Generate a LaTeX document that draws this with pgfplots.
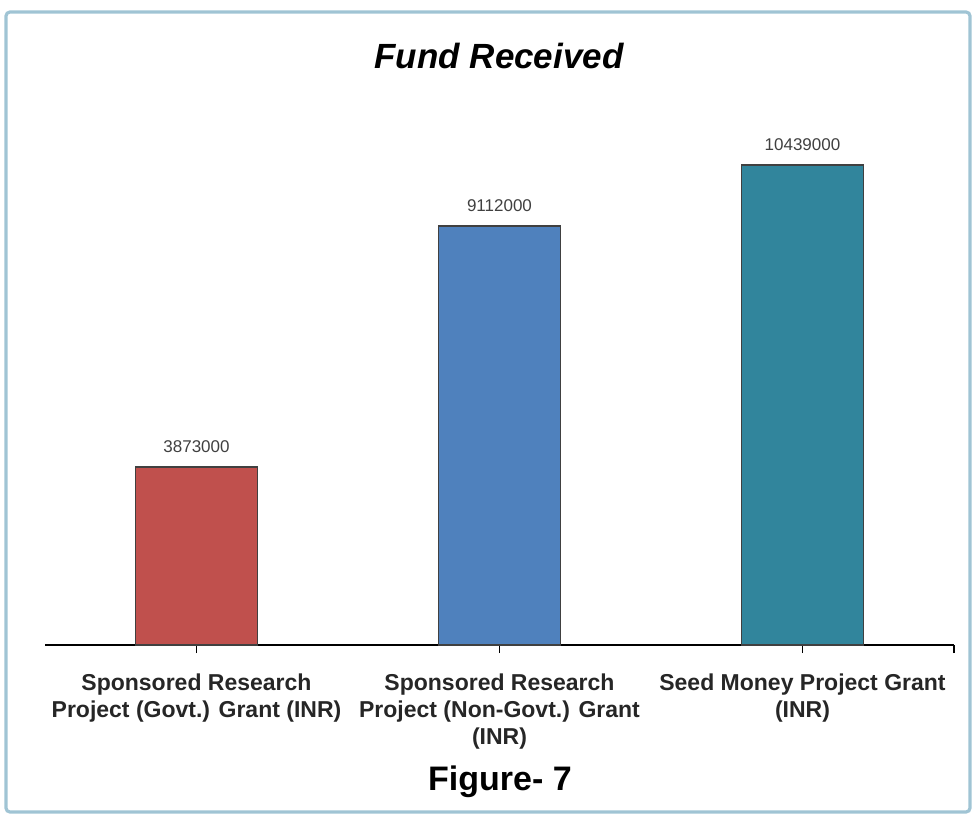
\documentclass[border=0pt]{standalone}
\usepackage{pgfplots}
\pgfplotsset{compat=1.18}
\usepackage{fontspec}
\setmainfont{Liberation Sans}

\definecolor{barred}{HTML}{C0504D}
\definecolor{barblue}{HTML}{4F81BD}
\definecolor{barteal}{HTML}{31859C}
\definecolor{framec}{RGB}{160,196,212}
\definecolor{valgray}{HTML}{404040}

\begin{document}
\begin{tikzpicture}
% page: 974x819 px at 0.5pt per px, origin top-left
\path (0,0) rectangle (487pt,-409.5pt);
\draw[framec, line width=1.6pt, rounded corners=2pt] (3pt,-6pt) rectangle (485pt,-406pt);

\node[font=\fontsize{17.5}{20}\selectfont\bfseries\itshape] at (249.5pt,-28pt) {Fund Received};

\begin{axis}[
  at={(22.5pt,-322.5pt)}, anchor=south west,
  scale only axis,
  width=454.5pt, height=276pt,
  xmin=-0.5, xmax=2.5,
  ymin=0, ymax=12000000,
  hide y axis,
  axis x line*=bottom,
  axis line style={line width=1.4pt},
  xtick={0,1,2},
  extra x ticks={2.5},
  extra x tick labels={},
  xticklabels={%
    {Sponsored Research\\Project (Govt.) Grant (INR)},
    {Sponsored Research\\Project (Non-Govt.) Grant\\(INR)},
    {Seed Money Project Grant\\(INR)}},
  x tick label style={font=\fontsize{11.5}{13.5}\selectfont\bfseries,
    align=center, text=black!85, yshift=-7pt},
  tick align=outside,
  major tick length=4pt,
  tick style={black, line width=0.9pt},
  ybar, bar width=61pt, bar shift=0pt,
  nodes near coords,
  point meta=explicit symbolic,
  nodes near coords style={font=\fontsize{8.5}{10}\selectfont, text=valgray, yshift=3.5pt},
  clip=false,
]
\addplot[draw=black!75, line width=0.7pt, fill=barred] coordinates {(0,3873000) [3873000]};
\addplot[draw=black!75, line width=0.7pt, fill=barblue] coordinates {(1,9112000) [9112000]};
\addplot[draw=black!75, line width=0.7pt, fill=barteal] coordinates {(2,10439000) [10439000]};
\end{axis}

\node[font=\fontsize{17}{20}\selectfont\bfseries] at (250pt,-391pt) {Figure- 7};
\end{tikzpicture}
\end{document}
